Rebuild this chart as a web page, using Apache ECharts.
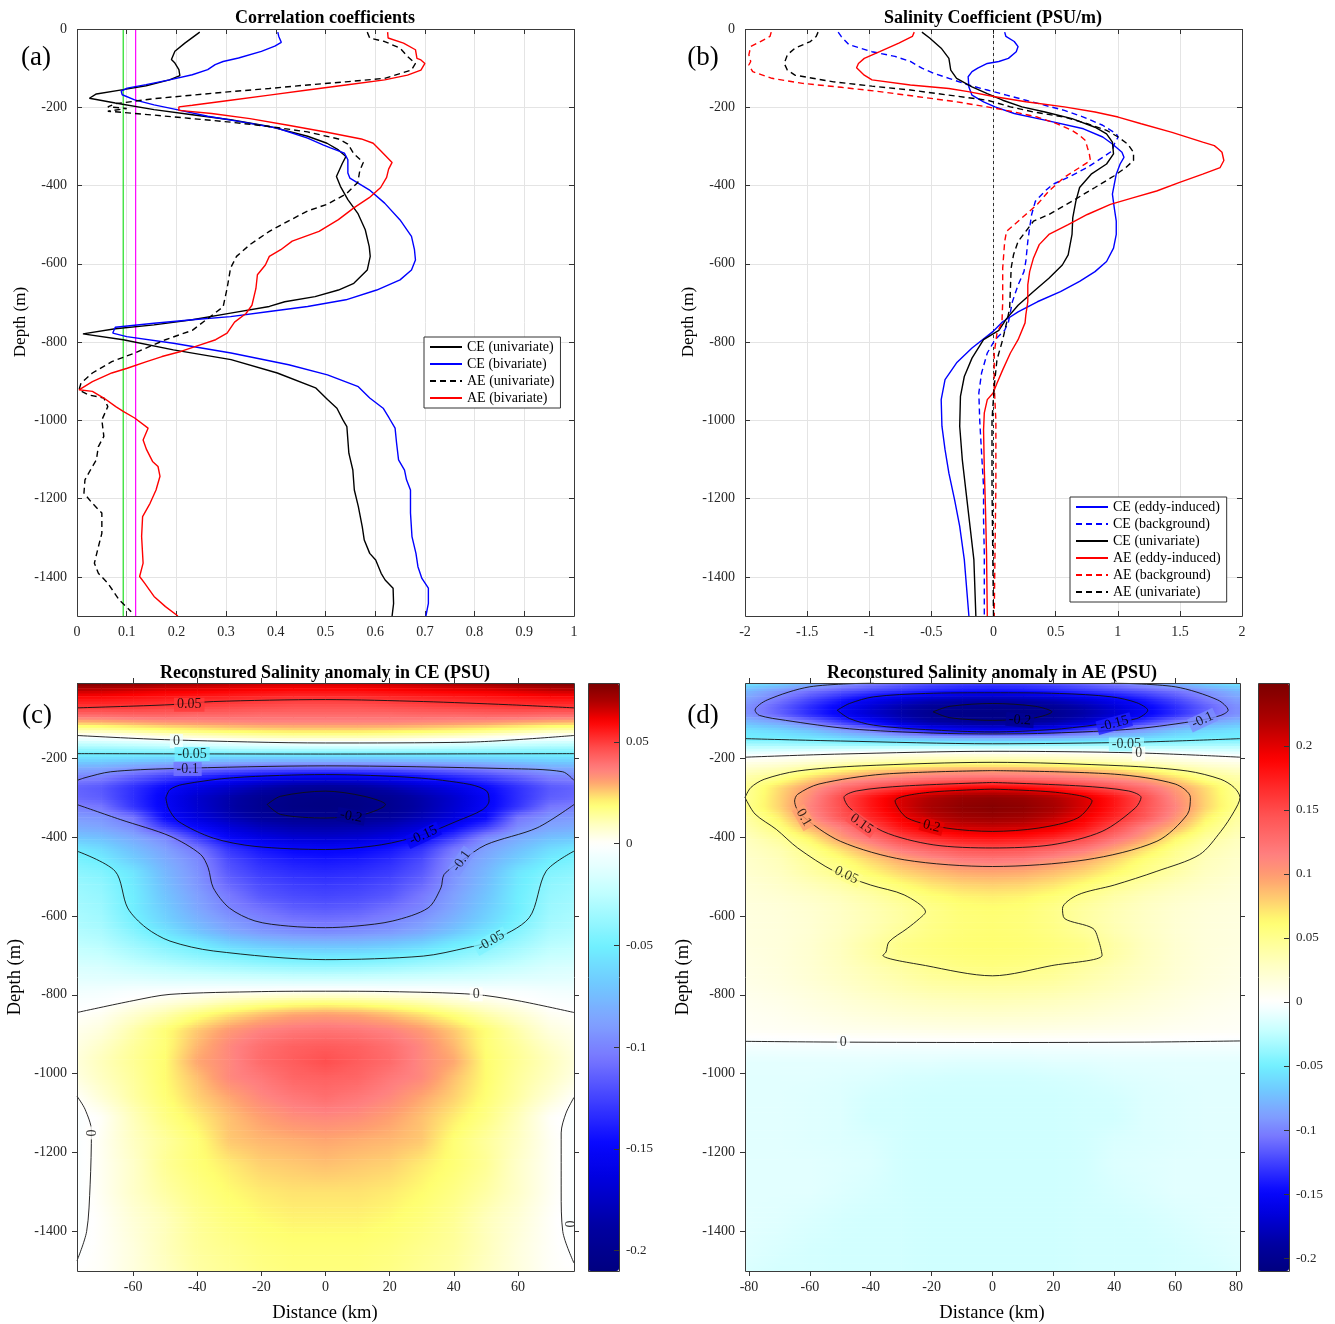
<!DOCTYPE html>
<html>
<head>
<meta charset="utf-8">
<script src="https://cdn.jsdelivr.net/npm/echarts@6.0.0/dist/echarts.min.js"></script>
<style>
  html, body { margin: 0; padding: 0; background: #fff; }
  #chart { width: 1335px; height: 1324px; }
</style>
</head>
<body>
<div id="chart"></div>
<script>
// ---------- (a) correlation coefficients: [value, depth (m, positive down)] ----------
const ceUniCorr = [[0.247,8],[0.217,36],[0.197,57],[0.190,78],[0.197,87],[0.205,104],[0.207,119],[0.186,130],[0.139,145],[0.093,155],[0.039,166],[0.025,177],[0.077,189],[0.155,206],[0.232,219],[0.309,232],[0.387,249],[0.464,274],[0.503,292],[0.526,309],[0.541,326],[0.534,343],[0.522,377],[0.530,402],[0.545,436],[0.565,471],[0.580,513],[0.588,556],[0.590,581],[0.584,616],[0.557,650],[0.526,667],[0.479,684],[0.418,697],[0.387,709],[0.309,726],[0.232,743],[0.155,756],[0.077,766],[0.012,779],[0.093,794],[0.194,820],[0.310,845],[0.403,879],[0.480,917],[0.504,947],[0.523,969],[0.535,999],[0.543,1016],[0.547,1084],[0.555,1127],[0.558,1178],[0.566,1220],[0.574,1272],[0.578,1306],[0.589,1340],[0.601,1357],[0.612,1391],[0.620,1408],[0.636,1429],[0.637,1468],[0.634,1500]];
const ceBivCorr = [[0.404,8],[0.406,19],[0.411,34],[0.398,44],[0.371,57],[0.325,74],[0.294,83],[0.278,91],[0.263,104],[0.232,117],[0.186,130],[0.139,142],[0.101,151],[0.089,159],[0.091,168],[0.116,181],[0.155,194],[0.201,206],[0.263,223],[0.325,236],[0.402,253],[0.464,279],[0.495,296],[0.510,304],[0.538,317],[0.545,334],[0.545,368],[0.549,381],[0.588,411],[0.619,445],[0.650,488],[0.673,530],[0.679,564],[0.681,590],[0.673,616],[0.650,641],[0.603,667],[0.541,692],[0.464,709],[0.387,722],[0.309,735],[0.232,743],[0.155,752],[0.077,762],[0.072,777],[0.100,786],[0.194,803],[0.310,828],[0.426,858],[0.504,884],[0.566,914],[0.589,943],[0.616,969],[0.628,994],[0.640,1020],[0.643,1058],[0.647,1101],[0.659,1127],[0.663,1152],[0.671,1178],[0.671,1237],[0.674,1297],[0.682,1340],[0.686,1374],[0.694,1404],[0.707,1429],[0.707,1468],[0.702,1500]];
const aeUniCorr = [[0.584,8],[0.589,23],[0.619,32],[0.650,49],[0.665,70],[0.681,88],[0.673,105],[0.619,126],[0.541,135],[0.464,143],[0.387,152],[0.309,160],[0.232,169],[0.155,178],[0.077,191],[0.062,199],[0.100,203],[0.062,210],[0.155,220],[0.232,229],[0.309,238],[0.387,249],[0.464,263],[0.526,281],[0.545,294],[0.557,319],[0.576,341],[0.569,362],[0.565,392],[0.541,422],[0.503,448],[0.464,465],[0.425,491],[0.387,517],[0.348,551],[0.321,581],[0.309,611],[0.302,663],[0.294,710],[0.263,740],[0.232,770],[0.178,794],[0.116,828],[0.070,850],[0.031,879],[0.008,905],[0.004,922],[0.023,935],[0.054,943],[0.062,965],[0.050,999],[0.054,1041],[0.043,1067],[0.039,1101],[0.027,1127],[0.016,1152],[0.014,1186],[0.031,1212],[0.050,1237],[0.050,1289],[0.043,1323],[0.035,1365],[0.043,1391],[0.062,1416],[0.085,1459],[0.109,1489]];
const aeBivCorr = [[0.625,8],[0.626,23],[0.657,36],[0.681,53],[0.684,75],[0.692,79],[0.700,88],[0.692,105],[0.665,118],[0.619,130],[0.541,143],[0.464,156],[0.387,169],[0.309,182],[0.232,195],[0.205,199],[0.205,208],[0.271,216],[0.348,229],[0.425,246],[0.503,264],[0.572,281],[0.596,292],[0.611,311],[0.634,341],[0.627,358],[0.623,379],[0.611,405],[0.588,431],[0.557,457],[0.526,487],[0.487,517],[0.433,542],[0.410,564],[0.387,581],[0.379,603],[0.363,628],[0.360,663],[0.352,706],[0.340,727],[0.317,749],[0.302,777],[0.279,794],[0.248,807],[0.209,824],[0.171,837],[0.140,850],[0.101,867],[0.070,879],[0.031,901],[0.004,922],[0.031,926],[0.054,943],[0.078,965],[0.093,977],[0.116,994],[0.143,1020],[0.133,1050],[0.140,1075],[0.152,1105],[0.163,1118],[0.167,1143],[0.159,1178],[0.147,1212],[0.132,1246],[0.130,1297],[0.133,1365],[0.126,1399],[0.136,1416],[0.155,1450],[0.178,1476],[0.203,1500]];
const sigGreen = [[0.093,0],[0.093,1500]];
const sigMagenta = [[0.118,0],[0.118,1500]];

// ---------- (b) salinity coefficient (PSU/m) ----------
const ceEddy = [[0.09,8],[0.10,19],[0.167,32],[0.198,45],[0.183,58],[0.12,75],[0.043,83],[-0.05,88],[-0.127,100],[-0.173,109],[-0.204,122],[-0.198,148],[-0.173,169],[-0.08,186],[0.012,199],[0.167,216],[0.415,233],[0.724,255],[0.879,276],[0.957,294],[1.034,315],[1.05,328],[1.019,345],[0.988,371],[0.972,397],[0.957,422],[0.972,457],[0.988,491],[0.988,525],[0.966,560],[0.91,594],[0.817,620],[0.693,645],[0.539,671],[0.353,697],[0.198,723],[0.074,748],[0.0,772],[-0.173,815],[-0.297,853],[-0.39,896],[-0.421,947],[-0.415,1015],[-0.39,1075],[-0.359,1135],[-0.313,1203],[-0.272,1271],[-0.235,1356],[-0.198,1500]];
const ceBack = [[-1.25,8],[-1.226,19],[-1.164,40],[-0.978,58],[-0.793,70],[-0.669,83],[-0.576,100],[-0.483,113],[-0.359,126],[-0.204,143],[-0.05,156],[0.105,169],[0.26,182],[0.415,195],[0.57,208],[0.724,225],[0.879,246],[0.988,268],[1.003,276],[0.972,294],[0.957,311],[0.879,328],[0.755,354],[0.601,379],[0.477,397],[0.415,414],[0.337,440],[0.307,474],[0.291,508],[0.276,543],[0.26,594],[0.245,620],[0.198,654],[0.152,697],[0.121,748],[0.09,770],[0.012,794],[-0.05,828],[-0.096,879],[-0.118,930],[-0.111,999],[-0.096,1084],[-0.08,1169],[-0.08,1254],[-0.074,1340],[-0.074,1500]];
const ceUniSal = [[-0.576,8],[-0.514,23],[-0.421,49],[-0.359,75],[-0.344,105],[-0.297,126],[-0.173,148],[-0.05,165],[0.074,182],[0.229,199],[0.415,212],[0.632,229],[0.817,251],[0.91,268],[0.957,289],[0.966,319],[0.91,345],[0.786,371],[0.693,405],[0.663,440],[0.638,482],[0.632,525],[0.601,577],[0.554,603],[0.446,637],[0.322,671],[0.198,706],[0.105,740],[0.043,770],[-0.08,794],[-0.173,841],[-0.235,888],[-0.266,939],[-0.272,1015],[-0.251,1101],[-0.22,1186],[-0.189,1271],[-0.158,1356],[-0.142,1500]];
const aeEddy = [[-0.638,8],[-0.653,19],[-0.762,36],[-0.916,58],[-1.04,75],[-1.087,88],[-1.102,99],[-1.04,118],[-0.978,130],[-0.669,143],[-0.359,152],[-0.204,160],[0.012,173],[0.26,186],[0.57,199],[0.817,212],[1.003,225],[1.189,242],[1.437,264],[1.684,289],[1.777,298],[1.808,306],[1.839,315],[1.854,336],[1.824,354],[1.684,371],[1.498,392],[1.313,414],[1.127,431],[0.941,448],[0.755,474],[0.601,500],[0.446,525],[0.368,551],[0.322,585],[0.291,620],[0.276,654],[0.276,697],[0.26,731],[0.254,751],[0.198,794],[0.136,828],[0.074,871],[0.028,905],[-0.003,930],[-0.05,947],[-0.074,981],[-0.08,1024],[-0.074,1126],[-0.065,1220],[-0.056,1340],[-0.05,1500]];
const aeBack = [[-1.789,8],[-1.799,19],[-1.876,32],[-1.954,45],[-1.969,66],[-1.954,83],[-1.969,92],[-1.938,109],[-1.783,126],[-1.536,139],[-1.226,149],[-0.916,160],[-0.607,173],[-0.297,186],[-0.05,199],[0.167,212],[0.353,225],[0.508,242],[0.632,259],[0.693,272],[0.74,285],[0.755,302],[0.771,319],[0.78,336],[0.693,354],[0.57,379],[0.446,414],[0.353,448],[0.26,474],[0.167,500],[0.105,517],[0.09,543],[0.074,611],[0.074,697],[0.068,751],[0.028,777],[0.006,828],[0.006,913],[0.019,999],[0.019,1169],[0.012,1340],[0.006,1500]];
const aeUniSal = [[-1.412,8],[-1.427,19],[-1.474,32],[-1.598,49],[-1.659,66],[-1.684,88],[-1.659,105],[-1.598,118],[-1.288,135],[-0.978,146],[-0.669,156],[-0.359,169],[-0.05,182],[0.136,199],[0.322,212],[0.57,225],[0.755,242],[0.91,259],[1.003,276],[1.08,294],[1.127,315],[1.127,336],[1.065,354],[0.972,375],[0.817,405],[0.632,440],[0.446,474],[0.322,491],[0.26,517],[0.198,543],[0.161,577],[0.142,611],[0.136,663],[0.13,714],[0.105,751],[0.074,794],[0.028,845],[0.006,913],[-0.012,999],[-0.012,1169],[-0.006,1340],[0.0,1500]];
const zeroLine = [[0,0],[0,1500]];

// ---------- (c), (d) reconstructed salinity anomaly sections ----------
const distKm = [-80,-70,-60,-50,-40,-30,-20,-10,0,10,20,30,40,50,60,70,80];
const depthM = [10,30,50,70,90,110,130,150,170,190,210,230,250,275,300,325,350,375,400,430,460,490,520,550,580,610,640,670,700,730,760,790,820,850,890,930,970,1010,1060,1110,1170,1230,1300,1370,1440,1500];

const ceAnom = [
[0.079,0.078,0.076,0.073,0.071,0.069,0.067,0.066,0.066,0.066,0.067,0.069,0.071,0.073,0.076,0.078,0.079],
[0.067,0.066,0.064,0.062,0.061,0.060,0.059,0.058,0.058,0.058,0.059,0.060,0.061,0.062,0.064,0.066,0.067],
[0.057,0.057,0.056,0.055,0.054,0.053,0.052,0.051,0.051,0.051,0.052,0.053,0.054,0.055,0.056,0.057,0.057],
[0.051,0.051,0.051,0.050,0.049,0.048,0.047,0.046,0.046,0.046,0.047,0.048,0.049,0.050,0.051,0.051,0.051],
[0.042,0.042,0.043,0.043,0.042,0.042,0.041,0.041,0.041,0.041,0.041,0.042,0.042,0.043,0.043,0.042,0.042],
[0.027,0.028,0.030,0.032,0.033,0.034,0.035,0.035,0.035,0.035,0.035,0.034,0.033,0.032,0.030,0.028,0.027],
[0.011,0.012,0.015,0.018,0.020,0.022,0.023,0.024,0.024,0.024,0.023,0.022,0.020,0.018,0.015,0.012,0.011],
[-0.006,-0.005,-0.002,0.001,0.004,0.006,0.008,0.009,0.009,0.009,0.008,0.006,0.004,0.001,-0.002,-0.005,-0.006],
[-0.030,-0.029,-0.027,-0.024,-0.021,-0.018,-0.016,-0.015,-0.015,-0.015,-0.016,-0.018,-0.021,-0.024,-0.027,-0.029,-0.030],
[-0.050,-0.050,-0.050,-0.050,-0.050,-0.050,-0.050,-0.050,-0.050,-0.050,-0.050,-0.050,-0.050,-0.050,-0.050,-0.050,-0.050],
[-0.067,-0.068,-0.072,-0.076,-0.079,-0.081,-0.083,-0.084,-0.084,-0.084,-0.083,-0.081,-0.079,-0.076,-0.072,-0.068,-0.067],
[-0.086,-0.088,-0.097,-0.105,-0.111,-0.116,-0.120,-0.122,-0.123,-0.122,-0.120,-0.116,-0.111,-0.105,-0.097,-0.088,-0.086],
[-0.100,-0.103,-0.116,-0.128,-0.138,-0.147,-0.155,-0.160,-0.162,-0.160,-0.155,-0.147,-0.138,-0.128,-0.116,-0.103,-0.100],
[-0.112,-0.117,-0.132,-0.148,-0.161,-0.172,-0.183,-0.192,-0.195,-0.192,-0.183,-0.172,-0.161,-0.148,-0.132,-0.117,-0.112],
[-0.110,-0.115,-0.133,-0.153,-0.171,-0.185,-0.198,-0.205,-0.207,-0.205,-0.198,-0.185,-0.171,-0.153,-0.133,-0.115,-0.110],
[-0.100,-0.105,-0.130,-0.152,-0.170,-0.186,-0.200,-0.207,-0.209,-0.207,-0.200,-0.186,-0.170,-0.152,-0.130,-0.105,-0.100],
[-0.090,-0.093,-0.106,-0.148,-0.165,-0.180,-0.192,-0.198,-0.200,-0.198,-0.192,-0.180,-0.165,-0.148,-0.106,-0.093,-0.090],
[-0.082,-0.086,-0.097,-0.128,-0.150,-0.166,-0.178,-0.184,-0.186,-0.184,-0.178,-0.166,-0.150,-0.128,-0.097,-0.086,-0.082],
[-0.070,-0.074,-0.084,-0.098,-0.128,-0.152,-0.163,-0.170,-0.172,-0.170,-0.163,-0.152,-0.128,-0.098,-0.084,-0.074,-0.070],
[-0.052,-0.060,-0.074,-0.088,-0.105,-0.131,-0.143,-0.149,-0.151,-0.149,-0.143,-0.131,-0.105,-0.088,-0.074,-0.060,-0.052],
[-0.045,-0.051,-0.066,-0.082,-0.097,-0.122,-0.134,-0.140,-0.142,-0.140,-0.134,-0.122,-0.097,-0.082,-0.066,-0.051,-0.045],
[-0.040,-0.044,-0.055,-0.077,-0.094,-0.117,-0.128,-0.133,-0.135,-0.133,-0.128,-0.117,-0.094,-0.077,-0.055,-0.044,-0.040],
[-0.036,-0.040,-0.053,-0.074,-0.092,-0.111,-0.122,-0.127,-0.129,-0.127,-0.122,-0.111,-0.092,-0.074,-0.053,-0.040,-0.036],
[-0.034,-0.038,-0.051,-0.071,-0.088,-0.104,-0.117,-0.122,-0.124,-0.122,-0.117,-0.104,-0.088,-0.071,-0.051,-0.038,-0.034],
[-0.032,-0.036,-0.051,-0.068,-0.085,-0.100,-0.108,-0.115,-0.117,-0.115,-0.108,-0.100,-0.085,-0.068,-0.051,-0.036,-0.032],
[-0.030,-0.034,-0.048,-0.064,-0.079,-0.092,-0.100,-0.106,-0.108,-0.106,-0.100,-0.092,-0.079,-0.064,-0.048,-0.034,-0.030],
[-0.028,-0.031,-0.043,-0.056,-0.071,-0.084,-0.092,-0.096,-0.098,-0.096,-0.092,-0.084,-0.071,-0.056,-0.043,-0.031,-0.028],
[-0.024,-0.027,-0.036,-0.045,-0.053,-0.065,-0.071,-0.075,-0.076,-0.075,-0.071,-0.065,-0.053,-0.045,-0.036,-0.027,-0.024],
[-0.020,-0.022,-0.029,-0.036,-0.042,-0.047,-0.052,-0.055,-0.056,-0.055,-0.052,-0.047,-0.042,-0.036,-0.029,-0.022,-0.020],
[-0.015,-0.016,-0.021,-0.025,-0.029,-0.032,-0.035,-0.037,-0.038,-0.037,-0.035,-0.032,-0.029,-0.025,-0.021,-0.016,-0.015],
[-0.011,-0.012,-0.013,-0.015,-0.016,-0.017,-0.018,-0.019,-0.019,-0.019,-0.018,-0.017,-0.016,-0.015,-0.013,-0.012,-0.011],
[-0.006,-0.005,-0.003,-0.002,-0.001,0.000,0.000,0.001,0.001,0.001,0.000,0.000,-0.001,-0.002,-0.003,-0.005,-0.006],
[-0.002,-0.001,0.002,0.005,0.008,0.012,0.015,0.017,0.018,0.017,0.015,0.012,0.008,0.005,0.002,-0.001,-0.002],
[0.000,0.002,0.007,0.012,0.018,0.023,0.027,0.030,0.031,0.030,0.027,0.023,0.018,0.012,0.007,0.002,0.000],
[0.002,0.005,0.012,0.019,0.026,0.032,0.036,0.038,0.039,0.038,0.036,0.032,0.026,0.019,0.012,0.005,0.002],
[0.003,0.008,0.014,0.019,0.028,0.035,0.040,0.043,0.044,0.043,0.040,0.035,0.028,0.019,0.014,0.008,0.003],
[0.004,0.010,0.015,0.020,0.030,0.035,0.041,0.044,0.047,0.044,0.041,0.035,0.030,0.020,0.015,0.010,0.004],
[0.003,0.009,0.014,0.020,0.027,0.035,0.038,0.042,0.043,0.042,0.038,0.035,0.027,0.020,0.014,0.009,0.003],
[-0.001,0.006,0.013,0.019,0.025,0.030,0.035,0.038,0.040,0.038,0.035,0.030,0.025,0.019,0.013,0.006,-0.001],
[-0.003,0.001,0.010,0.017,0.022,0.027,0.031,0.034,0.035,0.034,0.031,0.027,0.022,0.017,0.010,0.001,-0.003],
[-0.003,0.002,0.009,0.014,0.019,0.026,0.028,0.029,0.030,0.029,0.028,0.026,0.019,0.014,0.009,0.002,-0.003],
[-0.003,0.002,0.008,0.015,0.019,0.022,0.025,0.026,0.027,0.026,0.025,0.022,0.019,0.015,0.008,0.002,-0.003],
[-0.003,0.002,0.008,0.013,0.017,0.020,0.022,0.023,0.023,0.023,0.022,0.020,0.017,0.013,0.008,0.002,-0.003],
[-0.003,0.001,0.006,0.010,0.015,0.018,0.020,0.021,0.021,0.021,0.020,0.018,0.015,0.010,0.006,0.001,-0.003],
[-0.002,0.001,0.005,0.010,0.014,0.016,0.018,0.019,0.019,0.019,0.018,0.016,0.014,0.010,0.005,0.001,-0.002],
[0.000,0.001,0.005,0.009,0.013,0.015,0.017,0.018,0.018,0.018,0.017,0.015,0.013,0.009,0.005,0.001,0.000]
];

const aeAnom = [
[-0.055,-0.062,-0.075,-0.088,-0.100,-0.110,-0.118,-0.123,-0.125,-0.123,-0.118,-0.110,-0.100,-0.088,-0.075,-0.062,-0.055],
[-0.078,-0.092,-0.106,-0.116,-0.124,-0.131,-0.138,-0.143,-0.145,-0.143,-0.138,-0.131,-0.124,-0.116,-0.106,-0.092,-0.078],
[-0.088,-0.104,-0.122,-0.138,-0.153,-0.165,-0.175,-0.180,-0.182,-0.180,-0.175,-0.165,-0.153,-0.138,-0.122,-0.104,-0.088],
[-0.096,-0.114,-0.134,-0.152,-0.168,-0.184,-0.196,-0.201,-0.203,-0.201,-0.196,-0.184,-0.168,-0.152,-0.134,-0.114,-0.096],
[-0.095,-0.113,-0.134,-0.152,-0.170,-0.186,-0.200,-0.206,-0.208,-0.206,-0.200,-0.186,-0.170,-0.152,-0.134,-0.113,-0.095],
[-0.075,-0.085,-0.103,-0.125,-0.145,-0.172,-0.186,-0.193,-0.195,-0.193,-0.186,-0.172,-0.145,-0.125,-0.103,-0.085,-0.075],
[-0.057,-0.062,-0.072,-0.088,-0.102,-0.125,-0.143,-0.152,-0.155,-0.152,-0.143,-0.125,-0.102,-0.088,-0.072,-0.062,-0.057],
[-0.050,-0.051,-0.054,-0.060,-0.067,-0.073,-0.078,-0.081,-0.082,-0.081,-0.078,-0.073,-0.067,-0.060,-0.054,-0.051,-0.050],
[-0.028,-0.029,-0.030,-0.030,-0.030,-0.030,-0.030,-0.030,-0.030,-0.030,-0.030,-0.030,-0.030,-0.030,-0.030,-0.029,-0.028],
[-0.007,-0.004,0.000,0.004,0.007,0.009,0.011,0.012,0.012,0.012,0.011,0.009,0.007,0.004,0.000,-0.004,-0.007],
[0.010,0.014,0.020,0.027,0.034,0.040,0.044,0.047,0.048,0.047,0.044,0.040,0.034,0.027,0.020,0.014,0.010],
[0.027,0.035,0.048,0.062,0.075,0.083,0.089,0.093,0.094,0.093,0.089,0.083,0.075,0.062,0.048,0.035,0.027],
[0.040,0.052,0.074,0.093,0.103,0.112,0.119,0.123,0.125,0.123,0.119,0.112,0.103,0.093,0.074,0.052,0.040],
[0.048,0.075,0.100,0.125,0.145,0.160,0.175,0.186,0.190,0.186,0.175,0.160,0.145,0.125,0.100,0.075,0.048],
[0.050,0.078,0.108,0.148,0.178,0.203,0.220,0.232,0.236,0.232,0.220,0.203,0.178,0.148,0.108,0.078,0.050],
[0.052,0.078,0.113,0.147,0.178,0.204,0.225,0.238,0.243,0.238,0.225,0.204,0.178,0.147,0.113,0.078,0.052],
[0.043,0.068,0.105,0.142,0.170,0.194,0.213,0.227,0.232,0.227,0.213,0.194,0.170,0.142,0.105,0.068,0.043],
[0.038,0.057,0.090,0.115,0.150,0.180,0.198,0.207,0.210,0.207,0.198,0.180,0.150,0.115,0.090,0.057,0.038],
[0.032,0.045,0.068,0.100,0.127,0.155,0.172,0.182,0.185,0.182,0.172,0.155,0.127,0.100,0.068,0.045,0.032],
[0.028,0.036,0.052,0.074,0.097,0.120,0.135,0.145,0.148,0.145,0.135,0.120,0.097,0.074,0.052,0.036,0.028],
[0.025,0.032,0.045,0.058,0.076,0.092,0.104,0.115,0.118,0.115,0.104,0.092,0.076,0.058,0.045,0.032,0.025],
[0.023,0.029,0.040,0.051,0.064,0.077,0.086,0.093,0.095,0.093,0.086,0.077,0.064,0.051,0.040,0.029,0.023],
[0.020,0.025,0.032,0.040,0.050,0.062,0.072,0.078,0.080,0.078,0.072,0.062,0.050,0.040,0.032,0.025,0.020],
[0.018,0.021,0.026,0.032,0.040,0.050,0.060,0.066,0.068,0.066,0.060,0.050,0.040,0.032,0.026,0.021,0.018],
[0.016,0.018,0.022,0.028,0.035,0.043,0.052,0.060,0.062,0.060,0.052,0.043,0.035,0.028,0.022,0.018,0.016],
[0.015,0.017,0.021,0.027,0.034,0.042,0.052,0.058,0.060,0.058,0.052,0.042,0.034,0.027,0.021,0.017,0.015],
[0.015,0.017,0.021,0.028,0.036,0.046,0.054,0.059,0.061,0.059,0.054,0.046,0.036,0.028,0.021,0.017,0.015],
[0.015,0.017,0.022,0.030,0.040,0.052,0.057,0.061,0.062,0.061,0.057,0.052,0.040,0.030,0.022,0.017,0.015],
[0.014,0.017,0.022,0.030,0.040,0.052,0.056,0.059,0.060,0.059,0.056,0.052,0.040,0.030,0.022,0.017,0.014],
[0.013,0.016,0.021,0.028,0.035,0.042,0.049,0.054,0.056,0.054,0.049,0.042,0.035,0.028,0.021,0.016,0.013],
[0.012,0.015,0.020,0.026,0.032,0.038,0.044,0.047,0.048,0.047,0.044,0.038,0.032,0.026,0.020,0.015,0.012],
[0.010,0.013,0.017,0.022,0.028,0.033,0.037,0.039,0.040,0.039,0.037,0.033,0.028,0.022,0.017,0.013,0.010],
[0.008,0.010,0.014,0.018,0.022,0.026,0.029,0.031,0.032,0.031,0.029,0.026,0.022,0.018,0.014,0.010,0.008],
[0.006,0.008,0.011,0.014,0.017,0.020,0.022,0.023,0.024,0.023,0.022,0.020,0.017,0.014,0.011,0.008,0.006],
[0.004,0.005,0.006,0.008,0.009,0.010,0.011,0.012,0.012,0.012,0.011,0.010,0.009,0.008,0.006,0.005,0.004],
[-0.005,-0.005,-0.005,-0.005,-0.005,-0.005,-0.005,-0.005,-0.005,-0.005,-0.005,-0.005,-0.005,-0.005,-0.005,-0.005,-0.005],
[-0.011,-0.011,-0.011,-0.011,-0.011,-0.012,-0.012,-0.013,-0.013,-0.013,-0.012,-0.012,-0.011,-0.011,-0.011,-0.011,-0.011],
[-0.012,-0.012,-0.012,-0.013,-0.014,-0.016,-0.017,-0.018,-0.018,-0.018,-0.017,-0.016,-0.014,-0.013,-0.012,-0.012,-0.012],
[-0.012,-0.012,-0.013,-0.014,-0.017,-0.018,-0.019,-0.019,-0.019,-0.019,-0.019,-0.018,-0.017,-0.014,-0.013,-0.012,-0.012],
[-0.012,-0.012,-0.013,-0.014,-0.018,-0.018,-0.019,-0.019,-0.019,-0.019,-0.019,-0.018,-0.018,-0.014,-0.013,-0.012,-0.012],
[-0.012,-0.012,-0.013,-0.014,-0.015,-0.018,-0.019,-0.019,-0.019,-0.019,-0.019,-0.018,-0.015,-0.014,-0.013,-0.012,-0.012],
[-0.012,-0.012,-0.012,-0.013,-0.014,-0.018,-0.019,-0.019,-0.019,-0.019,-0.019,-0.018,-0.014,-0.013,-0.012,-0.012,-0.012],
[-0.012,-0.012,-0.012,-0.014,-0.016,-0.018,-0.019,-0.019,-0.019,-0.019,-0.019,-0.018,-0.016,-0.014,-0.012,-0.012,-0.012],
[-0.012,-0.013,-0.015,-0.017,-0.018,-0.018,-0.019,-0.019,-0.019,-0.019,-0.019,-0.018,-0.018,-0.017,-0.015,-0.013,-0.012],
[-0.013,-0.015,-0.017,-0.018,-0.018,-0.018,-0.019,-0.019,-0.019,-0.019,-0.019,-0.018,-0.018,-0.018,-0.017,-0.015,-0.013],
[-0.015,-0.017,-0.017,-0.018,-0.018,-0.018,-0.019,-0.019,-0.019,-0.019,-0.019,-0.018,-0.018,-0.018,-0.017,-0.017,-0.015]
];

// contour lines: [distance km, depth m]
const ceContours = [
  [[-77.5,73],[-48.5,65],[-35,57],[0,52],[30.5,57],[57,65],[77.5,73]],
  [[-77.5,143],[-48.5,154],[0,162],[44,160],[77.5,143]],
  [[-77.5,189],[0,190],[77.5,189]],
  [[-77.5,257],[-75,250],[-67,235],[-48.5,227],[0,220],[57,227],[74,235],[77.5,257]],
  [[-49.8,301],[-48.5,280],[-44.5,267],[-28.7,250],[0,242],[28,250],[45,267],[50.3,284],[51,309],[49,331],[41,360],[30.5,394],[17.4,420],[0,432],[-22,424],[-35,403],[-46,360],[-49,327],[-49.8,301]],
  [[-18.2,318],[-14,297],[0,284],[12,297],[18.7,318],[12,343],[0,352],[-14,343],[-18.2,318]],
  [[-77.5,318],[-64,356],[-48.5,398],[-39,444],[-36.6,478],[-35,529],[-30,580],[-22,613],[-11.6,626],[0,630],[9.5,626],[21,613],[32,580],[36,529],[37,495],[42.4,461],[50,420],[66,377],[77.5,318]],
  [[-77.5,436],[-65.6,487],[-61.7,580],[-56,630],[-48.5,664],[-35,689],[0,711],[30.5,702],[44,681],[51.6,664],[63.5,605],[68.8,487],[77.5,436]],
  [[-77.5,845],[-60,815],[-48.5,799],[-20,792],[0,791],[20,792],[46.3,799],[60,815],[77.5,845]],
  [[-77.5,1057],[-75,1090],[-73,1145],[-73.4,1280],[-74.5,1400],[-77.5,1474]],
  [[77.5,1060],[75,1100],[73.5,1150],[73.5,1300],[74,1400],[77.5,1480]]
];
const ceLabels = [[-42.5,65,'0.05',0],[-46.5,157,'0',0],[-41.6,190,'-0.05',0],[-43,228,'-0.1',0],[8,348,'-0.2',-10],[30.5,396,'-0.15',25],[42.4,461,'-0.1',55],[51.6,664,'-0.05',30],[47,799,'0',0],[-72.8,1150,'0',90],[76.6,1381,'0',90]];

const aeContours = [
  [[-19.5,83],[-14,69],[0,62],[14,69],[19.5,83],[14,98],[0,104.6],[-14,98],[-19.5,83]],
  [[-51,79],[-47,62],[-39,45],[-22,36.5],[0,34.8],[22,36.5],[39,45],[47.4,60],[51,79],[47.4,100],[33,117],[19.5,128],[0,134],[-22,128],[-39,117],[-47,100],[-51,79]],
  [[-39,10],[-60,19.6],[-74,53],[-78,79],[-76.6,92],[-68,104.6],[-47,126],[-19.5,137],[0,139],[19.5,137],[47,126],[68,104.6],[75,92],[77.4,79],[74,53],[60,19.6],[39,10]],
  [[-81.3,151],[-50,157],[0,164],[47,160],[81.3,151]],
  [[-81.3,198],[-50,190],[0,183],[47,187],[81.3,198]],
  [[-81.3,300],[-79.4,275],[-75,254],[-64,233],[-43,220],[0,211],[43,220],[64,233],[75,254],[79.4,275],[81.3,300],[79.4,335],[75,386],[68,445],[54,487],[40,522],[28,547],[23,581],[23.7,607],[33,632],[35,666],[36,700],[19.5,726],[0,752],[-22,726],[-36,700],[-35,692],[-34,666],[-28,632],[-24,607],[-22,590],[-29,547],[-40,522],[-52,487],[-64,428],[-71,381],[-78,342],[-81.3,300]],
  [[0,232],[-36,241],[-57,266],[-64,292],[-65,309],[-63,343],[-50,411],[-29,458],[0,475],[30.7,458],[54,411],[64,343],[65,300],[60,266],[40,241],[0,232]],
  [[0,262],[-29,271],[-44.6,283.5],[-48.8,300],[-47,326],[-36,386],[-19.5,420],[0,428],[19.5,420],[36,386],[47,326],[48.8,300],[44.6,283.5],[29,271],[0,262]],
  [[0,279],[-22,288],[-32,309],[-28,352],[-15,377.7],[0,386],[15,377.7],[28,352],[32.7,309],[22,288],[0,279]],
  [[-81.3,918],[-50,920],[0,921],[50,920],[81.3,917]]
];
const aeLabels = [[9,104,'-0.2',-5],[40,113,'-0.15',15],[69,104,'-0.1',25],[44,166,'-0.05',0],[48,189,'0',0],[-20,373,'0.2',-15],[-43,367,'0.15',-35],[-62,351,'0.1',-60],[-48,497,'0.05',-25],[-49,920,'0',0]];

const ceRange = [-0.21, 0.079];
const aeRange = [-0.21, 0.249];

// ---------- style helpers ----------
const FONT = '"Liberation Serif", "Times New Roman", serif';
const posStops = [[0,'#ffffff'],[0.12,'#ffffc0'],[0.25,'#ffff70'],[0.33,'#ffc870'],[0.39,'#ffa070'],[0.46,'#ff8080'],[0.59,'#ff5050'],[0.76,'#ff0000'],[0.88,'#b00000'],[1,'#7a0000']];
const negStops = [[0,'#ffffff'],[0.05,'#e6ffff'],[0.11,'#c4ffff'],[0.24,'#70f0ff'],[0.33,'#70c8ff'],[0.42,'#80a0ff'],[0.5,'#7878ff'],[0.6,'#4040ff'],[0.7,'#0808ff'],[0.78,'#0000e0'],[0.9,'#0000a0'],[1,'#000080']];

function hexRgb(h) { return [parseInt(h.slice(1,3),16), parseInt(h.slice(3,5),16), parseInt(h.slice(5,7),16)]; }
function colorAt(v, vmin, vmax) {
  const stops = v >= 0 ? posStops : negStops;
  let t = v >= 0 ? v / vmax : v / vmin;
  t = Math.max(0, Math.min(1, t));
  for (let i = 1; i < stops.length; i++) {
    if (t <= stops[i][0]) {
      const f = (t - stops[i-1][0]) / (stops[i][0] - stops[i-1][0]);
      const a = hexRgb(stops[i-1][1]), b = hexRgb(stops[i][1]);
      return 'rgb(' + a.map((c, k) => Math.round(c + (b[k] - c) * f)).join(',') + ')';
    }
  }
  return stops[stops.length-1][1];
}
function barColors(r) {
  const out = [];
  for (let k = 0; k <= 96; k++) out.push(colorAt(r[0] + (r[1] - r[0]) * k / 96, r[0], r[1]));
  return out;
}
function bracket(arr, v) {
  let i = 0;
  while (i < arr.length - 2 && arr[i + 1] < v) i++;
  const f = Math.max(0, Math.min(1, (v - arr[i]) / (arr[i + 1] - arr[i])));
  return [i, f];
}
// shading colour under a contour label (same blend the cells use), so the label masks the line
function shadeUnder(grid, x, d, r) {
  const [i, fy] = bracket(depthM, d), [j, fx] = bracket(distKm, x);
  const top = grid[i][j] + (grid[i][j + 1] - grid[i][j]) * fx;
  const bot = grid[i + 1][j] + (grid[i + 1][j + 1] - grid[i + 1][j]) * fx;
  return colorAt(top + (bot - top) * fy, r[0], r[1]);
}

function cells(grid) {
  const out = [];
  for (let i = 0; i < depthM.length - 1; i++)
    for (let j = 0; j < distKm.length - 1; j++)
      out.push([distKm[j], distKm[j+1], depthM[i], depthM[i+1], grid[i][j], grid[i][j+1], grid[i+1][j], grid[i+1][j+1]]);
  return out;
}

function shadeRender(r) {
  return function (params, api) {
    const xL = api.value(0), xR = api.value(1), dT = api.value(2), dB = api.value(3);
    const tl = api.value(4), tr = api.value(5), bl = api.value(6), br = api.value(7);
    const p1 = api.coord([xL, dT]), p2 = api.coord([xR, dB]);
    const cs = params.coordSys;
    let x0 = p1[0], x1 = p2[0];
    if (xL === distKm[0]) x0 = Math.min(x0, cs.x - 2);
    if (xR === distKm[distKm.length-1]) x1 = Math.max(x1, cs.x + cs.width + 2);
    const h = p2[1] - p1[1];
    const n = Math.max(1, Math.round(h / 2.5));
    const children = [];
    for (let k = 0; k < n; k++) {
      const t = (k + 0.5) / n;
      const vl = tl + (bl - tl) * t, vr = tr + (br - tr) * t;
      const stops = [];
      for (let s = 0; s <= 4; s++) stops.push({ offset: s / 4, color: colorAt(vl + (vr - vl) * s / 4, r[0], r[1]) });
      children.push({
        type: 'rect',
        shape: { x: x0, y: p1[1] + h * k / n, width: x1 - x0 + 0.6, height: h / n + 0.6 },
        style: { fill: new echarts.graphic.LinearGradient(p1[0], 0, p2[0], 0, stops, true) }
      });
    }
    return { type: 'group', children };
  };
}

const L = {
  a:  { left: 77,   top: 29,  width: 497, height: 587 },
  b:  { left: 745,  top: 29,  width: 497, height: 587 },
  c:  { left: 77,   top: 683, width: 497, height: 588 },
  cb: { left: 588,  top: 683, width: 31,  height: 588 },
  d:  { left: 745,  top: 683, width: 495, height: 588 },
  db: { left: 1258, top: 683, width: 31,  height: 588 }
};

const tickIn = { inside: true, length: 5, lineStyle: { color: '#333', width: 1 } };
const tickOut = { inside: false, length: 5, lineStyle: { color: '#333', width: 1 } };
const noLine = { show: false, onZero: false };
const lab = { fontFamily: FONT, fontSize: 14, color: '#262626' };
const gridLine = { show: true, lineStyle: { color: '#e4e4e4', width: 1 } };
const depthFmt = v => (v === 0 ? '0' : '-' + v);
const kmTicks = [-60,-40,-20,0,20,40,60];
const kmTicksD = [-80,-60,-40,-20,0,20,40,60,80];
const depthTicks = [200,400,600,800,1000,1200,1400];

function profX(gi, min, max, interval) {
  return [
    { gridIndex: gi, type: 'value', min, max, interval, position: 'bottom', axisLine: noLine, axisTick: tickIn, axisLabel: { ...lab, margin: 9 }, splitLine: gridLine },
    { gridIndex: gi, type: 'value', min, max, interval, position: 'top', axisLine: noLine, axisTick: tickIn, axisLabel: { show: false }, splitLine: { show: false } }
  ];
}
function profY(gi) {
  return [
    { gridIndex: gi, type: 'value', inverse: true, min: 0, max: 1500, interval: 200, position: 'left', axisLine: noLine, axisTick: tickIn, axisLabel: { ...lab, margin: 10, formatter: depthFmt, showMaxLabel: false }, splitLine: gridLine },
    { gridIndex: gi, type: 'value', inverse: true, min: 0, max: 1500, interval: 200, position: 'right', axisLine: noLine, axisTick: tickIn, axisLabel: { show: false }, splitLine: { show: false } }
  ];
}
function secX(gi, min, max, ticks) {
  return [
    { gridIndex: gi, type: 'value', min, max, position: 'bottom', z: 10, axisLine: noLine, axisTick: { ...tickOut, customValues: ticks }, axisLabel: { ...lab, margin: 9, customValues: ticks }, splitLine: { show: false } },
    { gridIndex: gi, type: 'value', min, max, position: 'top', z: 10, axisLine: noLine, axisTick: { ...tickOut, customValues: ticks }, axisLabel: { show: false }, splitLine: { show: false } }
  ];
}
function secY(gi) {
  return [
    { gridIndex: gi, type: 'value', inverse: true, min: 10, max: 1500, position: 'left', z: 10, axisLine: noLine, axisTick: { ...tickOut, customValues: depthTicks }, axisLabel: { ...lab, margin: 10, customValues: depthTicks, formatter: depthFmt }, splitLine: { show: false } },
    { gridIndex: gi, type: 'value', inverse: true, min: 10, max: 1500, position: 'right', z: 10, axisLine: noLine, axisTick: { ...tickOut, customValues: depthTicks }, axisLabel: { show: false }, splitLine: { show: false } }
  ];
}
function barY(gi, r, ticks) {
  return { gridIndex: gi, type: 'value', min: r[0], max: r[1], position: 'right', z: 10, axisLine: noLine,
    axisTick: { inside: true, length: 5, lineStyle: { color: '#333' }, customValues: ticks },
    axisLabel: { ...lab, fontSize: 13, margin: 7, customValues: ticks }, splitLine: { show: false } };
}
const hiddenX = gi => ({ gridIndex: gi, type: 'value', min: 0, max: 1, show: false, axisLine: noLine });

function prof(name, data, xi, yi, color, dashed) {
  return { name, type: 'line', xAxisIndex: xi, yAxisIndex: yi, data, symbol: 'none', silent: true, z: 3,
    lineStyle: { color, width: 1.4, type: dashed ? [6, 4] : 'solid' }, itemStyle: { color } };
}
function contourSeries(lines, xi, yi) {
  return lines.map(d => ({ type: 'line', xAxisIndex: xi, yAxisIndex: yi, data: d, symbol: 'none', smooth: 0.3, silent: true, z: 5,
    lineStyle: { color: '#111', width: 0.9 } }));
}
function labelSeries(list, xi, yi, grid, r) {
  return { type: 'scatter', xAxisIndex: xi, yAxisIndex: yi, symbolSize: 1, silent: true, z: 6, itemStyle: { color: 'rgba(0,0,0,0)' },
    data: list.map(l => ({ value: [l[0], l[1]], label: { show: true, position: 'inside', formatter: l[2], rotate: l[3],
      fontFamily: FONT, fontSize: 14, color: '#000', backgroundColor: shadeUnder(grid, l[0], l[1], r), padding: [0, 3] } })) };
}

const series = [
  { type: 'custom', xAxisIndex: 4, yAxisIndex: 4, data: cells(ceAnom), renderItem: shadeRender(ceRange), clip: true, silent: true, z: 1, encode: { x: [0, 1], y: [2, 3] } },
  { type: 'custom', xAxisIndex: 7, yAxisIndex: 7, data: cells(aeAnom), renderItem: shadeRender(aeRange), clip: true, silent: true, z: 1, encode: { x: [0, 1], y: [2, 3] } },
  // (a)
  { type: 'line', xAxisIndex: 0, yAxisIndex: 0, data: sigGreen, symbol: 'none', silent: true, z: 2, lineStyle: { color: '#22dd22', width: 1.2 } },
  { type: 'line', xAxisIndex: 0, yAxisIndex: 0, data: sigMagenta, symbol: 'none', silent: true, z: 2, lineStyle: { color: '#ff00ff', width: 1.2 } },
  prof('CE (univariate)', ceUniCorr, 0, 0, '#000000', false),
  prof('CE (bivariate)', ceBivCorr, 0, 0, '#0000ff', false),
  prof('AE (univariate)', aeUniCorr, 0, 0, '#000000', true),
  prof('AE (bivariate)', aeBivCorr, 0, 0, '#ff0000', false),
  // (b)
  { type: 'line', xAxisIndex: 2, yAxisIndex: 2, data: zeroLine, symbol: 'none', silent: true, z: 2, lineStyle: { color: '#000', width: 0.8, type: [3, 3] } },
  prof('CE (eddy-induced)', ceEddy, 2, 2, '#0000ff', false),
  prof('CE (background)', ceBack, 2, 2, '#0000ff', true),
  prof('CE (univariate)', ceUniSal, 2, 2, '#000000', false),
  prof('AE (eddy-induced)', aeEddy, 2, 2, '#ff0000', false),
  prof('AE (background)', aeBack, 2, 2, '#ff0000', true),
  prof('AE (univariate)', aeUniSal, 2, 2, '#000000', true),
  ...contourSeries(ceContours, 4, 4),
  labelSeries(ceLabels, 4, 4, ceAnom, ceRange),
  ...contourSeries(aeContours, 7, 7),
  labelSeries(aeLabels, 7, 7, aeAnom, aeRange)
];

const legendBase = { orient: 'vertical', itemWidth: 32, itemHeight: 12, itemGap: 3, padding: [3, 6, 3, 5],
  backgroundColor: '#fff', borderColor: '#333', borderWidth: 1, borderRadius: 0, selectedMode: false,
  itemStyle: { opacity: 0 },
  textStyle: { fontFamily: FONT, fontSize: 14, color: '#000' } };

function border(g) {
  return { type: 'rect', silent: true, z: 100, shape: { x: g.left + 0.5, y: g.top + 0.5, width: g.width, height: g.height },
    style: { fill: null, stroke: '#3a3a3a', lineWidth: 1 } };
}
function txt(x, y, text, font, rot) {
  return { type: 'text', x, y, rotation: rot || 0, silent: true, z: 100,
    style: { text, font, fill: '#000', align: 'center', verticalAlign: 'middle' } };
}
const titleFont = 'bold 18px ' + FONT;
const nameFontA = '17px ' + FONT;
const nameFontC = '18.5px ' + FONT;
const tagFont = '27px ' + FONT;

const option = {
  animation: false,
  backgroundColor: '#fff',
  grid: [L.a, L.b, L.c, L.cb, L.d, L.db].map(g => ({ ...g, containLabel: false, outerBoundsMode: 'none', show: false })),
  xAxis: [
    ...profX(0, 0, 1, 0.1),
    ...profX(1, -2, 2, 0.5),
    ...secX(2, -77.5, 77.5, kmTicks),
    hiddenX(3),
    ...secX(4, -81.3, 81.3, kmTicksD),
    hiddenX(5)
  ],
  yAxis: [
    ...profY(0),
    ...profY(1),
    ...secY(2),
    barY(3, ceRange, [0.05, 0, -0.05, -0.1, -0.15, -0.2]),
    ...secY(4),
    barY(5, aeRange, [0.2, 0.15, 0.1, 0.05, 0, -0.05, -0.1, -0.15, -0.2])
  ],
  visualMap: [
    { type: 'continuous', seriesIndex: 0, dimension: 4, min: ceRange[0], max: ceRange[1], calculable: false, hoverLink: false,
      left: L.cb.left, top: L.cb.top, itemWidth: L.cb.width, itemHeight: L.cb.height, padding: 0, inRange: { color: barColors(ceRange) } },
    { type: 'continuous', seriesIndex: 1, dimension: 4, min: aeRange[0], max: aeRange[1], calculable: false, hoverLink: false,
      left: L.db.left, top: L.db.top, itemWidth: L.db.width, itemHeight: L.db.height, padding: 0, inRange: { color: barColors(aeRange) } }
  ],
  legend: [
    { ...legendBase, left: 424, top: 337, data: ['CE (univariate)', 'CE (bivariate)', 'AE (univariate)', 'AE (bivariate)'] },
    { ...legendBase, left: 1070, top: 497, data: ['CE (eddy-induced)', 'CE (background)', 'CE (univariate)', 'AE (eddy-induced)', 'AE (background)', 'AE (univariate)'] }
  ],
  graphic: [
    border(L.a), border(L.b), border(L.c), border(L.cb), border(L.d), border(L.db),
    txt(325, 18, 'Correlation coefficients', titleFont),
    txt(993, 18, 'Salinity Coefficient (PSU/m)', titleFont),
    txt(325, 673, 'Reconstured Salinity anomaly in CE (PSU)', titleFont),
    txt(992, 673, 'Reconstured Salinity anomaly in AE (PSU)', titleFont),
    txt(36, 58, '(a)', tagFont), txt(703, 58, '(b)', tagFont),
    txt(37, 716, '(c)', tagFont), txt(703, 716, '(d)', tagFont),
    txt(21, 322, 'Depth (m)', nameFontA, Math.PI / 2),
    txt(689, 322, 'Depth (m)', nameFontA, Math.PI / 2),
    txt(15, 977, 'Depth (m)', nameFontC, Math.PI / 2),
    txt(683, 977, 'Depth (m)', nameFontC, Math.PI / 2),
    txt(325, 1313, 'Distance (km)', nameFontC),
    txt(992, 1313, 'Distance (km)', nameFontC)
  ],
  series
};

const chart = echarts.init(document.getElementById('chart'), null, { renderer: 'canvas' });
chart.setOption(option);
</script>
</body>
</html>
